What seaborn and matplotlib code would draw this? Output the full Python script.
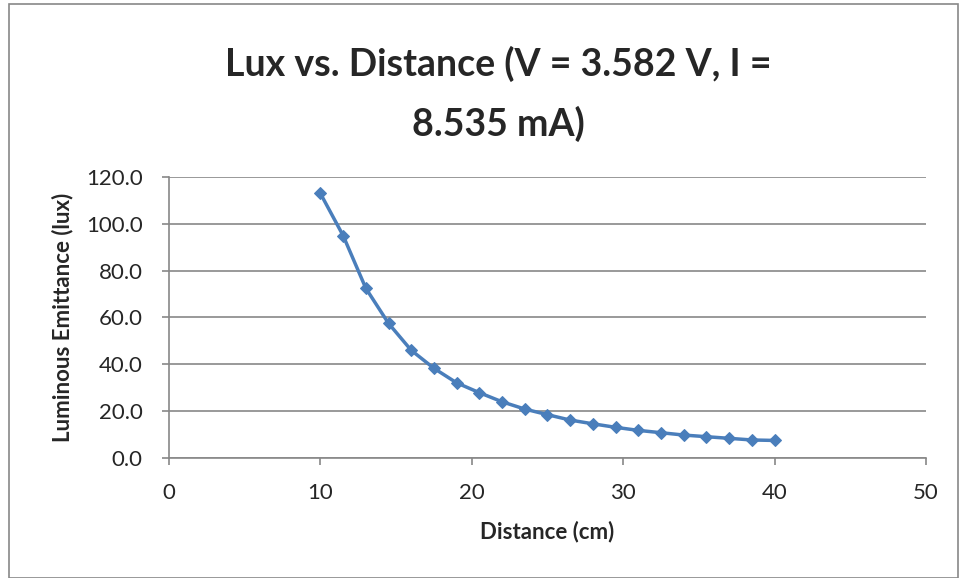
import pandas as pd
import matplotlib.pyplot as plt
import seaborn as sns

# Data
distance = [10, 11.5, 13, 14.5, 16, 17.5, 19, 20.5, 22, 23.5, 25,
            26.5, 28, 29.5, 31, 32.5, 34, 35.5, 37, 38.5, 40]
lux = [113.0, 95.0, 72.5, 57.5, 46.0, 38.3, 32.1, 27.9, 24.0, 20.9, 18.5,
       16.2, 14.6, 13.1, 11.8, 10.8, 9.8, 9.1, 8.4, 7.7, 7.5]
x_ticks = [0, 10, 20, 30, 40, 50]
y_ticks = [0, 20, 40, 60, 80, 100, 120]

df = pd.DataFrame({"Distance (cm)": distance, "Luminous Emittance (lux)": lux})

sns.set_style("white")
plt.rcParams['font.family'] = ['Lato', 'DejaVu Sans']

fig = plt.figure(figsize=(9.59, 5.78), dpi=100)
ax = fig.add_axes([0.1762, 0.2076, 0.7894, 0.4862])

# outer chart border
fig.patches.append(plt.Rectangle((0.009, 0.0), 0.99, 0.993, transform=fig.transFigure,
                                 fill=False, edgecolor="#888888", linewidth=1.2))

sns.lineplot(data=df, x="Distance (cm)", y="Luminous Emittance (lux)", ax=ax,
             color="#4A7EBB", linewidth=2.5, marker="D", markersize=6,
             markeredgecolor="#4A7EBB")

ax.set_xlim(0, 50)
ax.set_ylim(0, 120)
ax.set_xticks(x_ticks)
ax.set_yticks(y_ticks)
ax.set_yticklabels([f"{v:.1f}" for v in y_ticks])
ax.yaxis.grid(True, color="#888888", linewidth=1.2)
ax.xaxis.grid(False)
for s in ["top", "right"]:
    ax.spines[s].set_visible(False)
for s in ["left", "bottom"]:
    ax.spines[s].set_color("#888888")
    ax.spines[s].set_linewidth(1.2)
ax.tick_params(axis="both", direction="out", length=5, color="#888888",
               width=1.2, labelsize=16, bottom=True, left=True)
ax.tick_params(axis="y", pad=14)
ax.tick_params(axis="x", pad=13)

ax.set_xlabel("Distance (cm)", fontsize=16, fontweight="bold", labelpad=13)
ax.set_ylabel("Luminous Emittance (lux)", fontsize=16, fontweight="bold", labelpad=9)
fig.text(0.52, 0.837, "Lux vs. Distance (V = 3.582 V, I =\n8.535 mA)", ha="center",
         va="center", fontsize=27, fontweight="bold", linespacing=1.8)

plt.savefig("out.png", dpi=100)
